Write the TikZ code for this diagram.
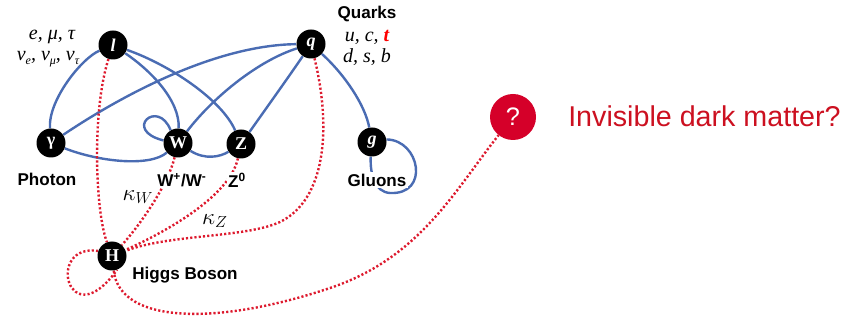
\documentclass[tikz,border=0pt]{standalone}
\usepackage{fontspec}
\setmainfont{Liberation Serif}
\newfontfamily\sansf{Liberation Sans}
\usetikzlibrary{backgrounds}
\definecolor{lblue}{HTML}{4A6CB3}
\definecolor{dred}{HTML}{DD1A2E}
\definecolor{qred}{HTML}{D50029}
\definecolor{tred}{HTML}{CC1020}
\newcommand\mysub[1]{\raisebox{-0.4ex}{\fontsize{9}{9}\selectfont #1}}
\begin{document}
\begin{tikzpicture}[x=0.75pt,y=-0.75pt,
  particle/.style={circle, fill=black, minimum size=21.75pt, inner sep=0pt, text=white, font=\fontsize{13.5}{13.5}\selectfont\bfseries},
  bline/.style={draw=lblue, line width=1.8pt},
  rline/.style={draw=dred, line width=1.8pt, dash pattern=on 1.6pt off 1.6pt},
  lab/.style={font=\sansf\bfseries\fontsize{12.8}{13}\selectfont, fill=white, inner sep=1pt},
  mlab/.style={font=\itshape\fontsize{15}{16}\selectfont, inner sep=0pt},
  klab/.style={font=\fontsize{17}{17}\selectfont, inner sep=0pt}
]
\useasboundingbox (0,0) rectangle (860,320);

% particles
\node[particle] (l) at (113,45) {\itshape l};
\node[particle] (gam) at (51,143) {γ};
\node[particle] (W) at (178,143) {W};
\node[particle] (Z) at (241,144) {Z};
\node[particle] (q) at (311,44) {\itshape q};
\node[particle] (g) at (372,142) {\itshape g};
\node[particle] (H) at (112,256) {H};
\node[circle, fill=qred, minimum size=34.5pt, inner sep=0pt, text=white, font=\sansf\fontsize{19}{19}\selectfont] (Q) at (513,117) {?};

% text labels
\node[mlab] (lep1) at (52,37) {e, μ, τ};
\node[mlab] (lep2) at (48,59) {ν\mysub{e}, ν\mysub{μ}, ν\mysub{τ}};
\node[lab] (qk) at (367,14) {Quarks};
\node[mlab] (qa) at (367,37) {u, c, \textcolor{red}{\bfseries t}};
\node[mlab] (qb) at (367,57) {d, s, b};
\node[lab] (ph) at (47,179) {Photon};
\node[lab] (wl) at (182,180) {W\textsuperscript{+}/W\textsuperscript{-}};
\node[lab] (zl) at (237,180) {Z\textsuperscript{0}};
\node[lab] (gl) at (377,180) {Gluons};
\node[lab] (hl) at (185,275) {Higgs Boson};
\node[klab] (kw) at (138,197) {$\kappa_W$};
\node[klab] (kz) at (215,221) {$\kappa_Z$};
\node[anchor=west, text=tred, inner sep=0pt, font=\sansf\fontsize{21.5}{24}\selectfont] (dm) at (568,116) {Invisible dark matter?};

\begin{pgfonlayer}{background}
% blue couplings
\draw[bline] (l) .. controls (82,58) and (48,100) .. (gam);
\draw[bline] (gam) .. controls (130,90) and (220,45) .. (q);
\draw[bline] (gam) .. controls (100,162) and (150,167) .. (W);
\draw[bline] (l) .. controls (150,70) and (180,100) .. (W);
\draw[bline] (l) .. controls (170,65) and (222,100) .. (Z);
\draw[bline] (W.120) .. controls (158,98) and (122,130) .. (W.170);
\draw[bline] (W) .. controls (205,160) and (220,157) .. (Z);
\draw[bline] (W) .. controls (215,95) and (260,60) .. (q);
\draw[bline] (Z) .. controls (265,110) and (290,75) .. (q);
\draw[bline] (q) .. controls (345,75) and (365,105) .. (g);
\draw[bline] (g.10) .. controls (420,140) and (430,195) .. (390,193) .. controls (375,192) and (370,175) .. (g.-95);
% red Higgs couplings
\draw[rline] (l) .. controls (92,110) and (95,210) .. (H);
\draw[rline] (W) .. controls (168,185) and (140,225) .. (H);
\draw[rline] (Z) .. controls (230,195) and (170,230) .. (H);
\draw[rline] (q) .. controls (332,130) and (325,200) .. (280,222) .. controls (245,238) and (170,234) .. (H);
\draw[rline] (H.160) .. controls (45,243) and (68,338) .. (H.-70);
\draw[rline] (H) .. controls (120,325) and (220,325) .. (330,288) .. controls (420,258) and (455,190) .. (Q);
\end{pgfonlayer}
\end{tikzpicture}
\end{document}
